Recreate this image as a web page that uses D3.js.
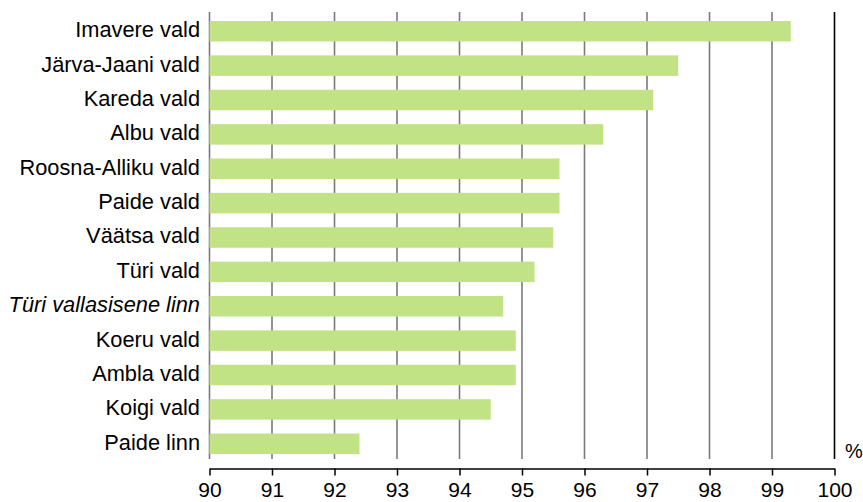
<!DOCTYPE html>
<html>
<head>
<meta charset="utf-8">
<script src="https://cdn.jsdelivr.net/npm/d3@7"></script>
<style>
  body { margin: 0; background: #fff; }
  text { font-family: "Liberation Sans", Arial, sans-serif; }
</style>
</head>
<body>
<svg id="chart" width="863" height="502"></svg>
<script>
// data
const places = ["Imavere vald", "Järva-Jaani vald", "Kareda vald", "Albu vald",
  "Roosna-Alliku vald", "Paide vald", "Väätsa vald", "Türi vald",
  "Türi vallasisene linn", "Koeru vald", "Ambla vald", "Koigi vald", "Paide linn"];
const shares = [99.3, 97.5, 97.1, 96.3, 95.6, 95.6, 95.5, 95.2, 94.7, 94.9, 94.9, 94.5, 92.4];
const italicPlaces = ["Türi vallasisene linn"];
const xTicks = [90, 91, 92, 93, 94, 95, 96, 97, 98, 99, 100];

const svg = d3.select("#chart");

// scales
const x = d3.scaleLinear().domain([90, 100]).range([209.5, 834.5]);
const y = d3.scaleBand().domain(places).range([12.4, 462.6]).paddingInner(0.404).paddingOuter(0.25);

// grid lines
svg.append("g")
  .selectAll("line")
  .data(xTicks)
  .join("line")
    .attr("x1", d => x(d)).attr("x2", d => x(d))
    .attr("y1", 12).attr("y2", 459)
    .attr("stroke", d => d === 100 ? "#000" : "#7a7a7a")
    .attr("stroke-width", 1.6);

// bars
svg.append("g")
  .selectAll("rect")
  .data(places)
  .join("rect")
    .attr("x", x(90))
    .attr("y", d => y(d))
    .attr("width", (d, i) => x(shares[i]) - x(90))
    .attr("height", y.bandwidth())
    .attr("fill", "#c1e386");

// category labels
svg.append("g")
  .selectAll("text")
  .data(places)
  .join("text")
    .attr("x", 200)
    .attr("y", d => y(d) + y.bandwidth() / 2)
    .attr("dy", "0.27em")
    .attr("text-anchor", "end")
    .style("font-size", "21.8px")
    .style("font-style", d => italicPlaces.includes(d) ? "italic" : "normal")
    .attr("fill", "#000")
    .text(d => d);

// x axis, ticks pointing down
const xAxis = svg.append("g")
  .attr("transform", "translate(0,468.5)")
  .call(d3.axisBottom(x).tickValues(xTicks).tickSize(7).tickSizeOuter(0).tickPadding(7).tickFormat(d3.format("d")));
xAxis.select(".domain").attr("stroke", "#000").attr("stroke-width", 1.5);
xAxis.selectAll(".tick line").attr("stroke", "#000").attr("stroke-width", 1.5);
xAxis.selectAll(".tick text")
  .style("font-size", "21px")
  .style("font-family", "'Liberation Sans', Arial, sans-serif")
  .attr("fill", "#000");

// unit label
svg.append("text")
  .attr("x", 845)
  .attr("y", 458)
  .style("font-size", "20px")
  .attr("fill", "#000")
  .text("%");
</script>
</body>
</html>
